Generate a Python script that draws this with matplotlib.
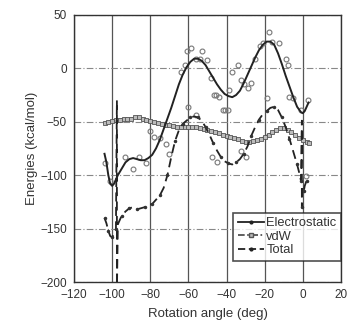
import matplotlib
matplotlib.use('Agg')
import matplotlib.pyplot as plt
from matplotlib.lines import Line2D
import numpy as np

plt.rcParams['font.family'] = ['Liberation Sans', 'DejaVu Sans']
txt = '#333333'

# Electrostatic fitted curve
elec_x = [-104, -103, -102, -101, -100, -99, -97, -95, -93, -91, -89, -87, -85, -83, -81,
          -79, -77, -75, -73, -71, -69, -67, -65, -63, -61, -59, -57, -55, -53, -51, -49,
          -47, -45, -43, -41, -39, -37, -35, -33, -31, -29, -27, -25, -23, -21, -19, -17,
          -15, -13, -11, -9, -7, -5, -3, -1, 0, 1, 2, 3]
elec_y = [-80, -88, -100, -108, -110, -108, -100, -94, -88, -85, -84, -85, -86, -86, -84,
          -81, -75, -67, -57, -47, -37, -26, -15, -6, 1, 6, 9, 9, 7, 3, -3,
          -9, -15, -20, -24, -26, -27, -25, -21, -14, -6, 2, 10, 17, 22, 25, 25,
          22, 14, 4, -7, -17, -27, -36, -41, -42, -40, -36, -32]

# Electrostatic raw points (open circles)
raw_x = [-104, -101, -93, -89, -86, -82.5, -80, -78, -75, -72, -70, -64, -62, -60.5, -58.8,
         -56, -54, -52.7, -50, -48, -45.6, -44, -41, -39, -38.6, -37, -34, -32.5, -30.8,
         -29, -27, -25, -22.7, -21, -17.5, -16, -12.5, -9, -8, -7, -5, -1, 2.7,
         -60, -56, -46.5, -42, -19, -47.4, -45, -32.5, -30, 1.7]
raw_y = [-89, -105, -83, -94, -83, -89, -59, -64, -65, -71, -80, -3, 3, 16, 19,
         9, 9, 16, 8, -9, -25, -27, -39, -39, -20, -3, 3, -11, -15,
         -18, -14, 9, 21, 24, 34, 25, 24, 9, 3, -27, -28, -39, -30,
         -36, -44, -25, -39, -28, -83, -88, -77, -83, -101]

# vdW
vdw_x = [-104, -102, -100, -98, -96, -94, -92, -90, -88, -86, -84, -82, -80, -78, -76, -74,
         -72, -70, -68, -66, -64, -62, -60, -58, -56, -54, -52, -50, -48, -46, -44, -42,
         -40, -38, -36, -34, -32, -30, -28, -26, -24, -22, -20, -18, -16, -14, -12, -10,
         -8, -6, -4, -2, 0, 2, 3]
vdw_y = [-51, -50, -49, -48, -48, -47, -47, -47, -46, -46, -47, -48, -49, -50, -51, -52,
         -53, -53, -54, -55, -55, -55, -55, -55, -55, -56, -57, -58, -59, -60, -61, -62,
         -63, -64, -65, -66, -68, -69, -69, -68, -67, -66, -64, -62, -60, -58, -56, -56,
         -58, -60, -62, -65, -67, -69, -70]

# Total (with the two spikes of the fit)
tot_x = [-104, -103, -102, -101, -100, -99, -98, -97.5, -97.5, -97, -95, -93, -91, -89, -87,
         -85, -83, -81, -79, -77, -75, -73, -71, -69, -67, -65, -63, -61, -59, -57, -55,
         -53, -51, -49, -47, -45, -43, -41, -39, -37, -35, -33, -31, -29, -27, -25, -23,
         -21, -19, -17, -15, -13, -11, -9, -7, -5, -3, -2, -1, -0.5, -0.5, -0.5, 0.5, 1, 2, 3]
tot_y = [-140, -145, -152, -157, -158, -155, -150, -30, -210, -146, -138, -134, -131, -130, -132,
         -131, -130, -128, -127, -123, -119, -112, -100, -83, -68, -58, -52, -49, -46, -45, -46,
         -49, -55, -62, -70, -77, -83, -87, -89, -90, -88, -85, -80, -73, -63, -55, -48,
         -43, -40, -37, -36, -39, -46, -55, -66, -78, -90, -97, -105, -49, -130, -112, -115, -110, -105, -102]

fig = plt.figure(figsize=(3.49, 3.31), dpi=100)
ax = fig.add_axes([0.212, 0.148, 0.765, 0.807])

ax.grid(True, axis='x', color='#555555', lw=0.9, ls='-')
ax.grid(True, axis='y', color='#888888', lw=0.8, ls=(0, (6, 2, 1, 2)))
ax.set_axisbelow(True)

ax.plot(raw_x, raw_y, 'o', mfc='none', mec='#777777', ms=3.5, mew=0.8)
ax.plot(vdw_x, vdw_y, '-', color='#444444', lw=1.2, marker='s', ms=2.8, mfc='#bbbbbb', mec='#555555', mew=0.6)
ax.plot(tot_x, tot_y, color='#222222', lw=1.3, ls=(0, (5, 3)))
ax.plot(tot_x, tot_y, '.', color='#333333', ms=3, markevery=2)
ax.plot(elec_x, elec_y, '-', color='#222222', lw=1.4)

ax.set_xlim(-120, 20)
ax.set_ylim(-200, 50)
ax.set_xticks(np.arange(-120, 21, 20))
ax.set_yticks(np.arange(-200, 51, 50))
ax.tick_params(length=0, labelsize=8.5, labelcolor=txt, pad=5)
for s in ax.spines.values():
    s.set_color('#333333')
    s.set_linewidth(1.0)

ax.set_xlabel('Rotation angle (deg)', fontsize=9.5, color=txt, labelpad=5)
ax.set_ylabel('Energies (kcal/mol)', fontsize=9.5, color=txt, labelpad=2)

handles = [
    Line2D([], [], color='#222222', lw=1.3, marker='.', ms=4),
    Line2D([], [], color='#444444', lw=1.2, ls=(0, (4, 1.5, 1, 1.5)), marker='s', ms=3, mfc='#bbbbbb', mec='#555555'),
    Line2D([], [], color='#222222', lw=1.3, ls=(0, (4, 2)), marker='.', ms=4),
]
leg = ax.legend(handles, ['Electrostatic', 'vdW', 'Total'], loc='lower right',
                bbox_to_anchor=(1.0, 0.08), fontsize=9.3, frameon=True, fancybox=False,
                handlelength=2.0, handletextpad=0.2, labelspacing=0.1, borderpad=0.35,
                borderaxespad=0)
leg.get_frame().set_edgecolor('#222222')
leg.get_frame().set_linewidth(1.2)
for t in leg.get_texts():
    t.set_color(txt)

fig.savefig('out.png', dpi=100)
